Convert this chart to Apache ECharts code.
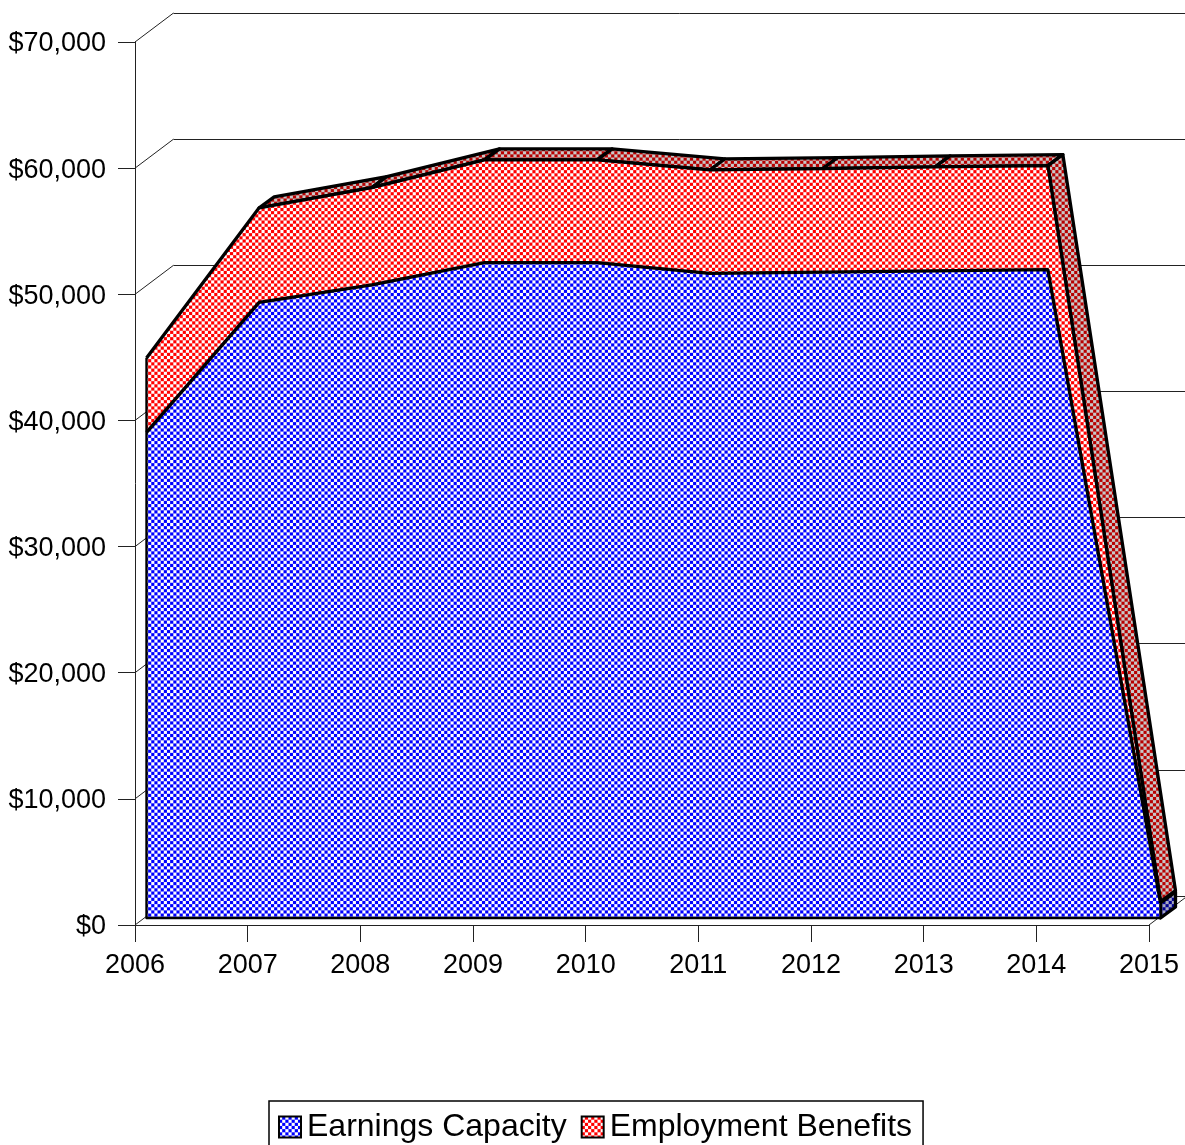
<!DOCTYPE html>
<html><head><meta charset="utf-8">
<style>html,body{margin:0;padding:0;background:#fff}#c{width:1185px;height:1145px}</style>
<script src="https://cdn.jsdelivr.net/npm/echarts@6/dist/echarts.min.js"></script>
</head><body><div id="c"></div>
<script>
const years = [2006,2007,2008,2009,2010,2011,2012,2013,2014,2015];
const earningsCapacity = [38500,48800,50200,51950,51950,51100,51200,51300,51400,1200];
const employmentBenefits = [5900,7500,7700,8150,8150,8200,8200,8250,8250,100];
const valueTicks = [0,10000,20000,30000,40000,50000,60000,70000];

const FRONT=[11.5,-7], BACK=[26.5,-18], WALL=[38.5,-29];
function pattern(a,b){
  const size=3;
  const c=document.createElement('canvas');c.width=c.height=size*2;
  const g=c.getContext('2d');
  g.fillStyle=a;g.fillRect(0,0,size*2,size*2);
  g.fillStyle=b;g.fillRect(0,0,size,size);g.fillRect(size,size,size,size);
  return {image:c,repeat:'repeat',scaleX:1.05,scaleY:1.05};
}
const blueFill=pattern('#0000ff','#ffffff'), redFill=pattern('#ff0000','#ffffff');
const redDark=pattern('#b80000','#c8c8c8'), blueDark=pattern('#000090','#a8a8c0');

const totals=years.map((y,i)=>earningsCapacity[i]+employmentBenefits[i]);
const pt=(api,i,v,o)=>{const p=api.coord([years[i],v]);return [p[0]+o[0],p[1]+o[1]];};
const STROKE={stroke:'#000',lineWidth:3.3,lineJoin:'round'};

function depthFaces(params,api){
  const i=params.dataIndex; if(i<1||i>=years.length-1) return {type:'group',children:[]};
  const pts=[pt(api,i,totals[i],FRONT),pt(api,i+1,totals[i+1],FRONT),pt(api,i+1,totals[i+1],BACK),pt(api,i,totals[i],BACK)];
  return {type:'polygon',shape:{points:pts},style:Object.assign({fill:redDark},STROKE)};
}
function endFace(params,api){
  const n=years.length-1;
  if(params.dataIndex!==n) return {type:'group',children:[]};
  return {type:'polygon',shape:{points:[pt(api,n,0,FRONT),pt(api,n,earningsCapacity[n],FRONT),pt(api,n,earningsCapacity[n],BACK),pt(api,n,0,BACK)]},style:Object.assign({fill:blueDark},STROKE)};
}
function frontEdges(params,api){
  const n=years.length-1;
  if(params.dataIndex!==0) return {type:'group',children:[]};
  return {type:'polyline',shape:{points:[pt(api,0,totals[0],FRONT),pt(api,0,0,FRONT),pt(api,n,0,FRONT),pt(api,n,totals[n],FRONT)]},style:Object.assign({fill:null},STROKE,{lineWidth:2.4})};
}
function wallLinks(params,api){
  const v=valueTicks[params.dataIndex];
  const a=api.coord([years[0],v]);
  const kids=[{type:'line',shape:{x1:a[0],y1:a[1],x2:a[0]+WALL[0],y2:a[1]+WALL[1]},style:{stroke:'#222',lineWidth:1}}];
  if(v===0){const b=api.coord([years[years.length-1],0]);
    kids.push({type:'line',shape:{x1:b[0],y1:b[1],x2:b[0]+WALL[0],y2:b[1]+WALL[1]},style:{stroke:'#222',lineWidth:1}});}
  return {type:'group',children:kids};
}
const L=135,R=36,T=42,B=220;
const hiddenX=(g)=>({type:'value',gridIndex:g,min:2006,max:2015,interval:1,show:false});
const hiddenY=(g,split)=>({type:'value',gridIndex:g,min:0,max:70000,interval:10000,axisLine:{show:false},axisTick:{show:false},axisLabel:{show:false},
  splitLine:{show:split,lineStyle:{color:'#222',width:1}}});
const labelFont={fontFamily:'Liberation Sans',fontSize:27,color:'#000'};
const chart=echarts.init(document.getElementById('c'),null,{renderer:'canvas'});
chart.setOption({
  animation:false,
  backgroundColor:'#fff',
  grid:[
    {left:L,right:R,top:T,bottom:B},
    {left:L+WALL[0],right:R-WALL[0],top:T+WALL[1],bottom:B-WALL[1]},
    {left:L+FRONT[0],right:R-FRONT[0],top:T+FRONT[1],bottom:B-FRONT[1]}
  ],
  xAxis:[
    {type:'value',gridIndex:0,min:2006,max:2015,interval:1,splitLine:{show:false},
     axisLine:{show:true,onZero:false,lineStyle:{color:'#222',width:1}},
     axisTick:{show:true,length:17,lineStyle:{color:'#222',width:1}},
     axisLabel:Object.assign({margin:27,formatter:v=>String(v),showMinLabel:true,showMaxLabel:true},labelFont)},
    hiddenX(1),hiddenX(2)
  ],
  yAxis:[
    {type:'value',gridIndex:0,min:0,max:70000,interval:10000,splitLine:{show:false},
     axisLine:{show:true,lineStyle:{color:'#222',width:1}},
     axisTick:{show:true,length:17,lineStyle:{color:'#222',width:1}},
     axisLabel:Object.assign({margin:29,verticalAlign:'top',lineHeight:4,formatter:v=>'$'+v.toLocaleString('en-US')},labelFont)},
    hiddenY(1,true),hiddenY(2,false)
  ],
  legend:{
    left:269,top:1101,orient:'horizontal',padding:[10,11,8,9],itemGap:14,itemWidth:22,itemHeight:21,
    borderColor:'#000',borderWidth:1.5,backgroundColor:'#fff',
    textStyle:{fontFamily:'Liberation Sans',fontSize:32,color:'#000',padding:[0,0,0,1]},
    data:[
      {name:'Earnings Capacity',icon:'rect',itemStyle:{color:blueFill,borderColor:'#000',borderWidth:2}},
      {name:'Employment Benefits',icon:'rect',itemStyle:{color:redFill,borderColor:'#000',borderWidth:2}}
    ]
  },
  series:[
    {type:'custom',name:'wall links',xAxisIndex:0,yAxisIndex:0,clip:false,silent:true,z:1,
     data:valueTicks.map(v=>[2006,v]),renderItem:wallLinks},
    {type:'custom',name:'depth',xAxisIndex:0,yAxisIndex:0,clip:false,silent:true,z:2,
     data:years.map((y,i)=>[y,totals[i]]),renderItem:depthFaces},
    {type:'custom',name:'end',xAxisIndex:0,yAxisIndex:0,clip:false,silent:true,z:3,
     data:years.map((y,i)=>[y,earningsCapacity[i]]),renderItem:endFace},
    {type:'line',name:'Employment Benefits',xAxisIndex:2,yAxisIndex:2,clip:false,z:4,
     symbol:'none',smooth:false,
     data:years.map((y,i)=>[y,totals[i]]),
     areaStyle:{color:redFill,opacity:1},lineStyle:{color:'#000',width:3.3},itemStyle:{color:redFill}},
    {type:'line',name:'Earnings Capacity',xAxisIndex:2,yAxisIndex:2,clip:false,z:5,
     symbol:'none',smooth:false,
     data:years.map((y,i)=>[y,earningsCapacity[i]]),
     areaStyle:{color:blueFill,opacity:1},lineStyle:{color:'#000',width:3.3},itemStyle:{color:blueFill}},
    {type:'custom',name:'edges',xAxisIndex:0,yAxisIndex:0,clip:false,silent:true,z:6,
     data:years.map((y,i)=>[y,0]),renderItem:frontEdges}
  ]
});
</script></body></html>
